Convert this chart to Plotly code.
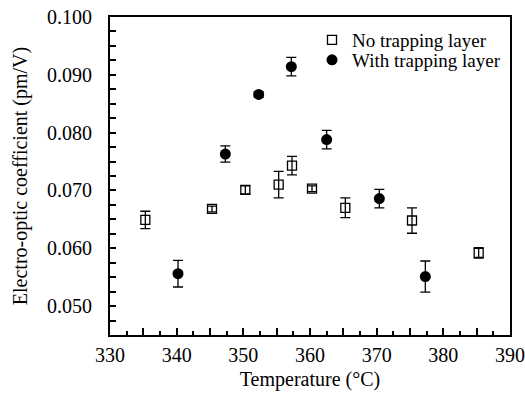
import plotly.graph_objects as go

# No trapping layer (open squares)
t_no = [335.3, 345.3, 350.3, 355.3, 357.3, 360.3, 365.3, 375.3, 385.3]
v_no = [0.0649, 0.0668, 0.0701, 0.0710, 0.0743, 0.0703, 0.0670, 0.0648, 0.0592]
e_no = [0.0015, 0.0005, 0.0007, 0.0023, 0.0016, 0.0005, 0.0017, 0.0022, 0.0009]

# With trapping layer (filled circles)
t_with = [340.2, 347.3, 352.3, 357.2, 362.5, 370.4, 377.3]
v_with = [0.0556, 0.0763, 0.0866, 0.0914, 0.0788, 0.0686, 0.0551]
e_with = [0.0023, 0.0014, 0.0005, 0.0016, 0.0016, 0.0016, 0.0027]

x_tickvals = list(range(330, 391, 5))
x_ticktext = [str(v) if v % 10 == 0 else "" for v in x_tickvals]
y_tickvals = [0.050, 0.060, 0.070, 0.080, 0.090, 0.100]
y_ticktext = ["%.3f" % v for v in y_tickvals]

FONT = "Liberation Serif, Times New Roman, serif"

fig = go.Figure()
fig.add_trace(go.Scatter(
    x=t_no, y=v_no, mode="markers", name="No trapping layer", legend="legend",
    marker=dict(symbol="square-open", size=9, color="black", line=dict(width=1.3, color="black")),
    error_y=dict(type="data", array=e_no, visible=True, width=5, thickness=1.3, color="black"),
))
fig.add_trace(go.Scatter(
    x=t_with, y=v_with, mode="markers", name="With trapping layer", legend="legend2",
    marker=dict(symbol="circle", size=11, color="black"),
    error_y=dict(type="data", array=e_with, visible=True, width=5, thickness=1.3, color="black"),
))

leg_common = dict(xanchor="left", yanchor="middle", bgcolor="rgba(0,0,0,0)",
                  font=dict(size=19, family=FONT), itemwidth=30,
                  borderwidth=0)

fig.update_layout(
    width=525, height=402,
    margin=dict(l=110, r=15, t=17, b=67),
    paper_bgcolor="white", plot_bgcolor="white",
    font=dict(family=FONT, size=20, color="black"),
    showlegend=True,
    legend=dict(x=0.505, y=1 - (40 - 17) / 318, **leg_common),
    legend2=dict(x=0.505, y=1 - (60 - 17) / 318, **leg_common),
    xaxis=dict(
        range=[330, 390], tickmode="array", tickvals=x_tickvals, ticktext=x_ticktext,
        ticks="inside", ticklen=7, tickwidth=1.5, tickcolor="black",
        minor=dict(dtick=2.5, ticks="inside", ticklen=4, tickwidth=1.5, tickcolor="black"),
        showline=True, linewidth=2, linecolor="black", mirror=True,
        showgrid=False, zeroline=False, automargin=False,
        ticklabelstandoff=1,
        title=dict(text="Temperature (°C)", font=dict(size=20, family=FONT), standoff=7),
        tickfont=dict(size=20, family=FONT),
    ),
    yaxis=dict(
        range=[0.045, 0.100], tickmode="array", tickvals=y_tickvals, ticktext=y_ticktext,
        ticks="inside", ticklen=6, tickwidth=1.5, tickcolor="black",
        minor=dict(dtick=0.0025, ticks="inside", ticklen=6, tickwidth=1.5, tickcolor="black"),
        showline=True, linewidth=2, linecolor="black", mirror=True,
        showgrid=False, zeroline=False, automargin=False,
        ticklabelstandoff=12,
        title=dict(text="Electro-optic coefficient (pm/V)", font=dict(size=20, family=FONT), standoff=14),
        tickfont=dict(size=20, family=FONT),
    ),
)

fig.write_html("out.html", config={"displayModeBar": False},
               post_script="document.body.style.margin='0';document.body.style.padding='0';")
